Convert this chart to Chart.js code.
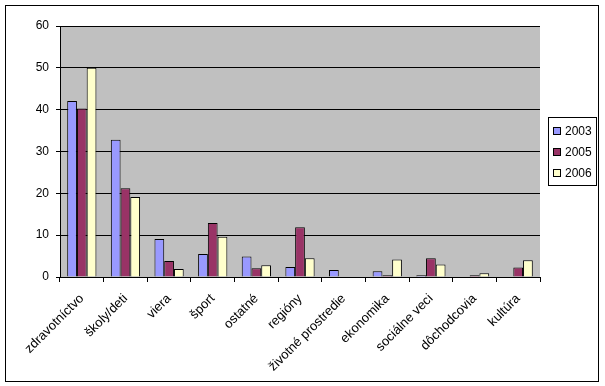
<!DOCTYPE html>
<html lang="sk">
<head>
    <meta charset="UTF-8">
    <title>Chart</title>
    <script src="https://cdn.jsdelivr.net/npm/chart.js"></script>
    <style>
        body { margin: 0; background: #fff; }
    </style>
</head>
<body>
    <canvas id="myChart" width="605" height="386"></canvas>

    <script>
        const categories = ['zdravotníctvo', 'školy/deti', 'viera', 'šport', 'ostatné', 'regióny',
            'životné prostredie', 'ekonomika', 'sociálne veci', 'dôchodcovia', 'kultúra'];
        const years = ['2003', '2005', '2006'];
        const values2003 = [42.1, 32.8, 9.1, 5.5, 4.9, 2.4, 1.7, 1.4, 0.4, 0, 0];
        const values2005 = [40.3, 21.2, 3.8, 12.9, 2.1, 11.9, 0, 0.4, 4.5, 0.4, 2.3];
        const values2006 = [50, 19.1, 1.9, 9.6, 2.8, 4.5, 0, 4.2, 3.0, 0.9, 4.0];
        const yTicks = [0, 10, 20, 30, 40, 50, 60];

        const colors = ['#9999FF', '#993366', '#FFFFCC'];
        const family = 'Liberation Sans, Arial, sans-serif';

        // pozadie grafu, rám a legenda
        const decor = {
            id: 'decor',
            beforeDraw(chart) {
                const c = chart.ctx, a = chart.chartArea;
                c.save();
                c.fillStyle = '#C0C0C0';
                c.fillRect(a.left, a.top, a.right - a.left, a.bottom - a.top);
                c.restore();
            },
            afterDraw(chart) {
                const c = chart.ctx;
                c.save();
                c.strokeStyle = '#000';
                c.lineWidth = 1;
                c.strokeRect(5.5, 5.5, 593, 376);
                // legenda
                c.strokeRect(548.5, 117.5, 48, 68);
                c.font = '12px ' + family;
                c.textBaseline = 'middle';
                chart.data.datasets.forEach((ds, i) => {
                    const y = 131 + i * 21;
                    c.fillStyle = ds.backgroundColor;
                    c.fillRect(553.5, y - 3.5, 7, 7);
                    c.strokeRect(553.5, y - 3.5, 7, 7);
                    c.fillStyle = '#000';
                    c.fillText(ds.label, 565, y + 0.5);
                });
                c.restore();
            }
        };

        const ctx = document.getElementById('myChart').getContext('2d');
        const myChart = new Chart(ctx, {
            type: 'bar',
            data: {
                labels: categories,
                datasets: [
                    { label: years[0], data: values2003, backgroundColor: colors[0] },
                    { label: years[1], data: values2005, backgroundColor: colors[1] },
                    { label: years[2], data: values2006, backgroundColor: colors[2] }
                ].map(d => Object.assign(d, {
                    borderColor: '#000', borderWidth: 1,
                    barPercentage: 1, categoryPercentage: 0.67
                }))
            },
            options: {
                responsive: false,
                animation: false,
                layout: { padding: { top: 26, right: 65, left: 0, bottom: 0 } },
                plugins: {
                    legend: { display: false },
                    tooltip: { enabled: false }
                },
                scales: {
                    x: {
                        grid: {
                            offset: true,
                            drawOnChartArea: false,
                            color: '#000',
                            tickLength: 5
                        },
                        border: { color: '#000' },
                        ticks: {
                            color: '#000',
                            font: { family: family, size: 13 },
                            maxRotation: 45,
                            minRotation: 45,
                            autoSkip: false,
                            padding: 9
                        },
                        afterFit: (scale) => { scale.height = 109; }
                    },
                    y: {
                        min: 0,
                        max: 60,
                        afterBuildTicks: (scale) => {
                            scale.ticks = yTicks.map(v => ({ value: v }));
                        },
                        grid: {
                            color: '#000',
                            tickLength: 4
                        },
                        border: { color: '#000' },
                        ticks: {
                            color: '#000',
                            font: { family: family, size: 12 },
                            padding: 7
                        },
                        afterFit: (scale) => { scale.width = 60; }
                    }
                }
            },
            plugins: [decor]
        });
    </script>
</body>
</html>
